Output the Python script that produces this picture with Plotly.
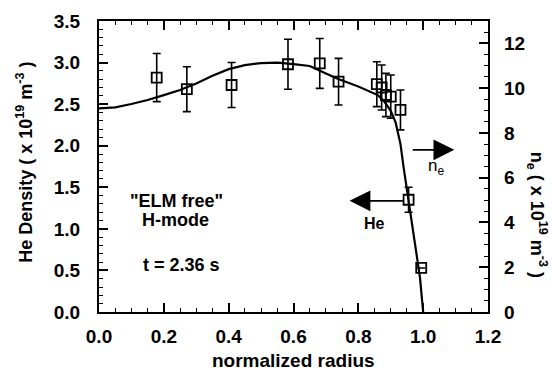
import plotly.graph_objects as go

# He density data (left axis, x10^19 m^-3)
r_he = [0.178, 0.271, 0.409, 0.583, 0.681, 0.739, 0.857, 0.872, 0.885, 0.900, 0.930, 0.955, 0.994]
he_density = [2.82, 2.68, 2.73, 2.98, 2.99, 2.77, 2.74, 2.70, 2.61, 2.59, 2.43, 1.35, 0.53]
he_err = [0.29, 0.27, 0.27, 0.30, 0.30, 0.28, 0.27, 0.27, 0.26, 0.26, 0.24, 0.15, 0.0]

# electron density profile (right axis, x10^19 m^-3)
r_ne = [0.0, 0.05, 0.1, 0.15, 0.2, 0.25, 0.3, 0.35, 0.4, 0.45, 0.5, 0.55, 0.6, 0.65,
        0.7, 0.74, 0.8, 0.86, 0.88, 0.9, 0.915, 0.93, 0.94, 0.955, 0.973, 0.99, 1.0]
ne = [9.10, 9.14, 9.29, 9.47, 9.69, 9.92, 10.21, 10.55, 10.85, 11.03, 11.12, 11.14, 11.07, 10.99,
      10.66, 10.40, 10.07, 9.69, 9.40, 8.99, 8.47, 7.50, 6.43, 5.01, 3.38, 1.56, 0.0]

x_ticks = [0.0, 0.2, 0.4, 0.6, 0.8, 1.0, 1.2]
y_ticks = [0.0, 0.5, 1.0, 1.5, 2.0, 2.5, 3.0, 3.5]
y2_ticks = [0, 2, 4, 6, 8, 10, 12]

FONT = "Liberation Sans, Arial, Helvetica, sans-serif"
tickfont = dict(family=FONT, size=19, color="black", weight="bold")

fig = go.Figure()
fig.add_trace(go.Scatter(
    x=r_ne, y=ne, mode="lines", yaxis="y2",
    line=dict(color="black", width=2.2), showlegend=False))
fig.add_trace(go.Scatter(
    x=r_he, y=he_density, mode="markers",
    marker=dict(symbol="square-open", size=10, color="black", line=dict(width=1.8, color="black")),
    error_y=dict(type="data", array=he_err, visible=True, color="black", thickness=1.6, width=4),
    showlegend=False))

fig.update_layout(
    width=554, height=370,
    margin=dict(l=99, r=66, t=21, b=58),
    paper_bgcolor="white", plot_bgcolor="white",
    xaxis=dict(range=[0, 1.2], tickvals=x_ticks, ticktext=[f"{v:.1f}" for v in x_ticks],
               ticks="inside", ticklen=9, tickwidth=1.5, tickcolor="black",
               showline=True, linecolor="black", linewidth=2.2, mirror="ticks",
               showgrid=False, zeroline=False, tickfont=tickfont, ticklabelstandoff=6,
               minor=dict(dtick=0.05, ticks="inside", ticklen=4, tickwidth=1.3, tickcolor="black", showgrid=False)),
    yaxis=dict(range=[0, 3.5], tickvals=y_ticks, ticktext=[f"{v:.1f}" for v in y_ticks],
               ticks="inside", ticklen=9, tickwidth=1.5, tickcolor="black",
               showline=True, linecolor="black", linewidth=2.2, mirror=False,
               showgrid=False, zeroline=False, tickfont=tickfont, ticklabelstandoff=13,
               minor=dict(dtick=0.1, ticks="inside", ticklen=4, tickwidth=1.3, tickcolor="black", showgrid=False)),
    yaxis2=dict(range=[0, 13], tickvals=y2_ticks, overlaying="y", side="right",
                ticks="inside", ticklen=9, tickwidth=1.5, tickcolor="black",
                showline=True, linecolor="black", linewidth=2.2,
                showgrid=False, zeroline=False, tickfont=tickfont, ticklabelstandoff=10,
                minor=dict(dtick=0.5, ticks="inside", ticklen=4, tickwidth=1.3, tickcolor="black", showgrid=False)),
)

txt = dict(family=FONT, size=18, color="black", weight="bold")
ann = [
    dict(text="\"ELM free\"", x=0.238, y=1.337, xref="x", yref="y", showarrow=False, font=txt),
    dict(text="H-mode", x=0.235, y=1.108, xref="x", yref="y", showarrow=False, font=txt),
    dict(text="t = 2.36 s", x=0.253, y=0.566, xref="x", yref="y", showarrow=False, font=txt),
    dict(text="He", x=0.850, y=1.07, xref="x", yref="y", showarrow=False,
         font=dict(family=FONT, size=16, color="black", weight="bold")),
    dict(text="n<sub>e</sub>", x=1.041, y=1.74, xref="x", yref="y", showarrow=False,
         font=dict(family=FONT, size=17, color="black")),
    # arrows
    dict(text="", x=1.096, y=1.95, ax=0.963, ay=1.95, xref="x", yref="y", axref="x", ayref="y",
         showarrow=True, arrowhead=2, arrowsize=2.6, arrowwidth=1.6, arrowcolor="black"),
    dict(text="", x=0.773, y=1.337, ax=0.942, ay=1.337, xref="x", yref="y", axref="x", ayref="y",
         showarrow=True, arrowhead=2, arrowsize=2.6, arrowwidth=1.6, arrowcolor="black"),
    # axis titles
    dict(text="He Density ( x 10<sup>19</sup> m<sup>-3</sup> )", x=-0.19, y=0.513,
         xref="paper", yref="paper", xanchor="center", yanchor="middle", textangle=-90, showarrow=False,
         font=dict(family=FONT, size=18, color="black", weight="bold")),
    dict(text="n<sub>e</sub> ( x 10<sup>19</sup> m<sup>-3</sup> )", x=1.126, y=0.334,
         xref="paper", yref="paper", xanchor="center", yanchor="middle", textangle=90, showarrow=False,
         font=dict(family=FONT, size=18, color="black", weight="bold")),
    dict(text="normalized radius", x=0.5, y=-0.165, xref="paper", yref="paper",
         xanchor="center", yanchor="middle",
         showarrow=False, font=dict(family=FONT, size=19, color="black", weight="bold")),
]
fig.update_layout(annotations=ann)

fig.write_html("out.html")
